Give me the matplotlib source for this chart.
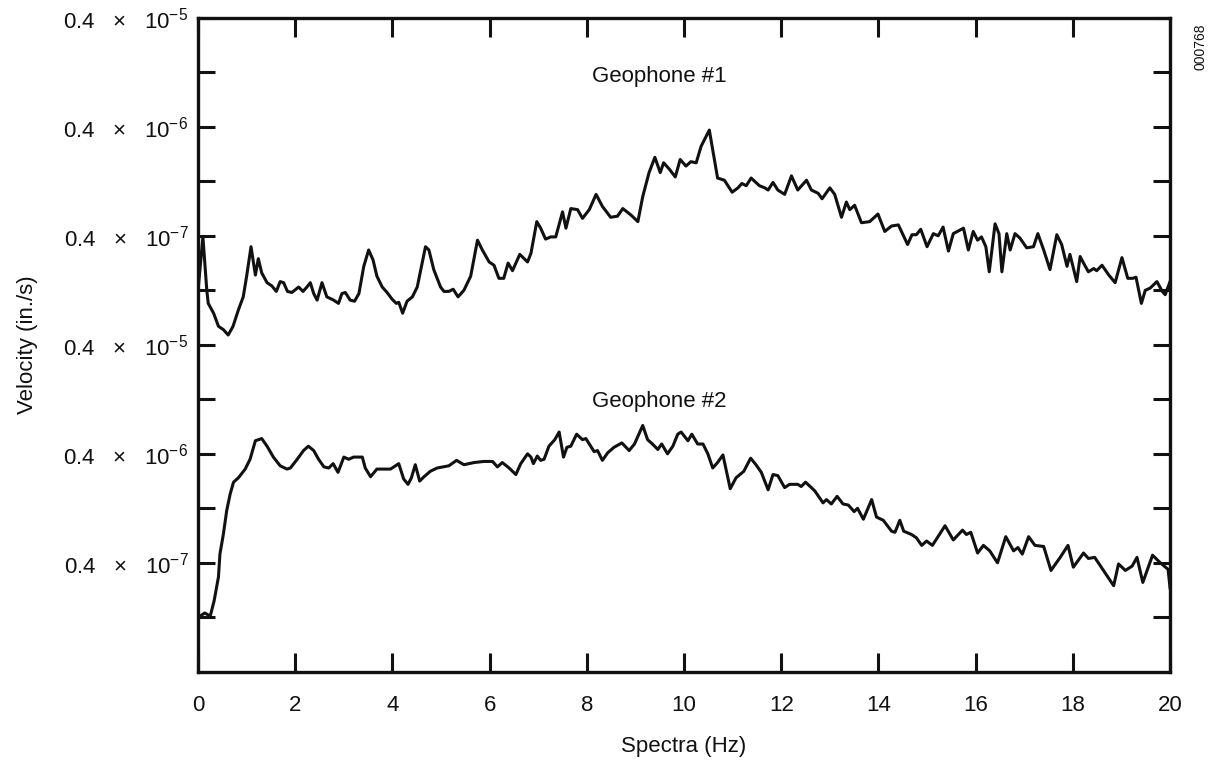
import matplotlib.pyplot as plt

plt.rcParams['font.family'] = ['Liberation Sans', 'DejaVu Sans']
plt.rcParams['mathtext.fontset'] = 'custom'
plt.rcParams['mathtext.rm'] = 'Liberation Sans'
plt.rcParams['mathtext.it'] = 'Liberation Sans:italic'

# Geophone #1: frequency (Hz) and velocity exponent n, velocity = 0.4 x 10^n in./s
freq1 = [0.00, 0.10, 0.18, 0.21, 0.32, 0.42, 0.52, 0.62, 0.72, 0.83, 0.93, 1.00,
         1.09, 1.18, 1.24, 1.31, 1.42, 1.52, 1.61, 1.69, 1.76, 1.84, 1.93, 2.07,
         2.16, 2.24, 2.31, 2.38, 2.45, 2.55, 2.65, 2.79, 2.89, 2.96, 3.03, 3.13,
         3.22, 3.31, 3.41, 3.51, 3.60, 3.68, 3.79, 3.89, 3.99, 4.08, 4.13, 4.21,
         4.30, 4.41, 4.51, 4.61, 4.68, 4.75, 4.85, 4.99, 5.06, 5.16, 5.25, 5.35,
         5.47, 5.61, 5.75, 5.85, 5.99, 6.09, 6.19, 6.29, 6.38, 6.47, 6.62, 6.78,
         6.85, 6.97, 7.05, 7.15, 7.26, 7.36, 7.50, 7.57, 7.67, 7.81, 7.91, 8.05,
         8.19, 8.32, 8.49, 8.63, 8.74, 8.91, 9.05, 9.15, 9.28, 9.40, 9.51, 9.58,
         9.70, 9.82, 9.92, 10.04, 10.14, 10.25, 10.35, 10.52, 10.69, 10.83, 10.99,
         11.11, 11.19, 11.28, 11.38, 11.55, 11.66, 11.73, 11.83, 11.93, 12.07,
         12.21, 12.34, 12.52, 12.62, 12.76, 12.84, 13.00, 13.10, 13.24, 13.34,
         13.41, 13.51, 13.65, 13.82, 13.99, 14.13, 14.27, 14.41, 14.60, 14.69,
         14.78, 14.87, 15.00, 15.13, 15.23, 15.33, 15.44, 15.54, 15.75, 15.85,
         15.95, 16.04, 16.12, 16.21, 16.28, 16.40, 16.48, 16.54, 16.64, 16.71,
         16.81, 16.91, 17.05, 17.19, 17.28, 17.40, 17.53, 17.67, 17.77, 17.88,
         17.94, 18.08, 18.15, 18.22, 18.32, 18.43, 18.49, 18.60, 18.74, 18.87,
         19.01, 19.13, 19.23, 19.30, 19.41, 19.49, 19.59, 19.73, 19.84, 19.90,
         20.00]
geo1_exp = [-7.50, -7.01, -7.50, -7.62, -7.71, -7.83, -7.86, -7.91, -7.83, -7.68,
            -7.56, -7.37, -7.10, -7.36, -7.21, -7.34, -7.43, -7.46, -7.51, -7.42,
            -7.43, -7.51, -7.52, -7.47, -7.51, -7.47, -7.43, -7.53, -7.59, -7.43,
            -7.56, -7.59, -7.62, -7.53, -7.52, -7.59, -7.60, -7.53, -7.28, -7.13,
            -7.22, -7.37, -7.47, -7.52, -7.58, -7.62, -7.61, -7.71, -7.60, -7.56,
            -7.47, -7.25, -7.10, -7.13, -7.31, -7.47, -7.51, -7.51, -7.49, -7.56,
            -7.50, -7.37, -7.04, -7.13, -7.24, -7.27, -7.39, -7.39, -7.25, -7.32,
            -7.17, -7.24, -7.16, -6.87, -6.93, -7.03, -7.01, -7.01, -6.78, -6.93,
            -6.75, -6.76, -6.84, -6.76, -6.62, -6.73, -6.83, -6.82, -6.75, -6.81,
            -6.87, -6.64, -6.42, -6.28, -6.42, -6.33, -6.39, -6.46, -6.30, -6.36,
            -6.32, -6.33, -6.18, -6.03, -6.47, -6.49, -6.60, -6.56, -6.52, -6.54,
            -6.47, -6.54, -6.56, -6.58, -6.51, -6.58, -6.62, -6.45, -6.58, -6.49,
            -6.58, -6.61, -6.66, -6.56, -6.62, -6.83, -6.69, -6.76, -6.72, -6.88,
            -6.87, -6.80, -6.96, -6.91, -6.90, -7.08, -6.99, -6.99, -6.94, -7.10,
            -6.98, -7.00, -6.92, -7.14, -6.98, -6.93, -7.13, -6.96, -7.04, -7.01,
            -7.10, -7.33, -6.89, -6.98, -7.33, -6.98, -7.13, -6.98, -7.02, -7.11,
            -7.10, -6.98, -7.13, -7.31, -6.99, -7.08, -7.28, -7.17, -7.42, -7.19,
            -7.25, -7.33, -7.30, -7.32, -7.27, -7.36, -7.43, -7.20, -7.39, -7.39,
            -7.38, -7.62, -7.50, -7.48, -7.42, -7.51, -7.54, -7.42]

# Geophone #2
freq2 = [0.00, 0.14, 0.25, 0.33, 0.42, 0.45, 0.52, 0.59, 0.66, 0.73, 0.83, 0.97,
         1.07, 1.18, 1.31, 1.42, 1.55, 1.69, 1.83, 1.90, 2.04, 2.17, 2.27, 2.38,
         2.48, 2.59, 2.69, 2.78, 2.88, 3.00, 3.10, 3.20, 3.31, 3.38, 3.44, 3.55,
         3.68, 3.82, 3.96, 4.13, 4.23, 4.32, 4.39, 4.47, 4.56, 4.65, 4.78, 4.92,
         5.16, 5.32, 5.47, 5.68, 5.88, 6.06, 6.16, 6.26, 6.40, 6.54, 6.64, 6.78,
         6.85, 6.90, 6.98, 7.05, 7.12, 7.22, 7.34, 7.43, 7.52, 7.59, 7.67, 7.79,
         7.91, 7.98, 8.05, 8.15, 8.22, 8.32, 8.43, 8.56, 8.72, 8.87, 8.98, 9.15,
         9.25, 9.35, 9.46, 9.54, 9.66, 9.77, 9.87, 9.94, 10.08, 10.16, 10.28,
         10.39, 10.49, 10.59, 10.69, 10.80, 10.95, 11.07, 11.23, 11.37, 11.48,
         11.59, 11.73, 11.83, 11.93, 12.07, 12.17, 12.34, 12.41, 12.50, 12.69,
         12.86, 12.93, 13.03, 13.15, 13.27, 13.38, 13.50, 13.57, 13.69, 13.86,
         13.96, 14.10, 14.27, 14.34, 14.44, 14.52, 14.68, 14.78, 14.89, 14.99,
         15.11, 15.37, 15.54, 15.73, 15.81, 15.90, 16.04, 16.16, 16.29, 16.45,
         16.62, 16.78, 16.87, 16.96, 17.09, 17.22, 17.40, 17.55, 17.74, 17.90,
         18.01, 18.22, 18.32, 18.45, 18.63, 18.84, 18.94, 19.08, 19.22, 19.32,
         19.44, 19.64, 19.80, 19.96, 20.00]
geo2_exp = [-7.50, -7.46, -7.49, -7.35, -7.13, -6.92, -6.74, -6.52, -6.37, -6.26,
            -6.22, -6.14, -6.05, -5.88, -5.86, -5.93, -6.03, -6.11, -6.14, -6.13,
            -6.05, -5.97, -5.93, -5.97, -6.05, -6.12, -6.13, -6.09, -6.17, -6.03,
            -6.05, -6.03, -6.03, -6.03, -6.13, -6.21, -6.14, -6.14, -6.14, -6.09,
            -6.23, -6.28, -6.22, -6.10, -6.25, -6.21, -6.16, -6.13, -6.11, -6.06,
            -6.10, -6.08, -6.07, -6.07, -6.12, -6.08, -6.13, -6.19, -6.09, -6.00,
            -6.03, -6.09, -6.02, -6.06, -6.05, -5.93, -5.87, -5.80, -6.03, -5.94,
            -5.93, -5.82, -5.87, -5.86, -5.91, -5.98, -5.97, -6.06, -5.99, -5.94,
            -5.90, -5.97, -5.91, -5.74, -5.87, -5.91, -5.96, -5.91, -6.00, -5.93,
            -5.82, -5.80, -5.88, -5.82, -5.91, -5.91, -6.00, -6.13, -6.08, -6.01,
            -6.32, -6.22, -6.16, -6.04, -6.10, -6.17, -6.33, -6.19, -6.20, -6.31,
            -6.28, -6.28, -6.30, -6.26, -6.34, -6.45, -6.42, -6.46, -6.39, -6.46,
            -6.47, -6.53, -6.50, -6.60, -6.42, -6.58, -6.61, -6.71, -6.72, -6.61,
            -6.71, -6.74, -6.77, -6.84, -6.80, -6.84, -6.66, -6.79, -6.70, -6.74,
            -6.72, -6.91, -6.84, -6.89, -7.00, -6.76, -6.89, -6.86, -6.92, -6.76,
            -6.84, -6.85, -7.07, -6.95, -6.84, -7.04, -6.91, -6.96, -6.95, -7.07,
            -7.21, -7.01, -7.07, -7.03, -6.95, -7.18, -6.93, -7.00, -7.06, -7.23]

# stacked layout: each panel spans three decades of the shared axis
top_offset = 11      # geophone #1: 0.4e-7 .. 0.4e-5 -> 4 .. 6
bottom_offset = 8    # geophone #2: 0.4e-7 .. 0.4e-5 -> 1 .. 3
ytick_exp = [-7, -6, -5, -7, -6, -5]
ytick_pos = [1, 2, 3, 4, 5, 6]
xticks = list(range(0, 21, 2))

fig = plt.figure(figsize=(12.15, 7.74), dpi=100)
ax = fig.add_axes([0.163, 0.132, 0.8, 0.845])

ax.plot(freq1, [e + top_offset for e in geo1_exp], color='#111111', lw=2.2,
        solid_joinstyle='round')
ax.plot(freq2, [e + bottom_offset for e in geo2_exp], color='#111111', lw=2.2,
        solid_joinstyle='round')

ax.set_xlim(0, 20)
ax.set_ylim(0, 6)
ax.set_xticks(xticks)
ax.set_xticklabels([str(t) for t in xticks], fontsize=16)
ax.set_yticks(ytick_pos)
ax.set_yticklabels([f'0.4   ×   10$^{{{e}}}$' for e in ytick_exp], fontsize=16)
ax.set_yticks([0.5, 1.5, 2.5, 3.5, 4.5, 5.5], minor=True)

ax.tick_params(axis='x', which='both', direction='in', length=14, width=2.2,
               top=True, pad=17, colors='#111111')
ax.tick_params(axis='y', which='both', direction='in', length=12, width=2.2,
               right=True, pad=7, colors='#111111')
for s in ax.spines.values():
    s.set_linewidth(2.4)
    s.set_color('#111111')

ax.set_xlabel('Spectra (Hz)', fontsize=16, labelpad=14, color='#111111')
ax.set_ylabel('Velocity (in./s)', fontsize=16, labelpad=18, color='#111111')

ax.text(9.5, 5.46, 'Geophone #1', fontsize=16, ha='center', va='center',
        color='#111111')
ax.text(9.5, 2.48, 'Geophone #2', fontsize=16, ha='center', va='center',
        color='#111111')
fig.text(0.988, 0.94, '000768', rotation=90, fontsize=10, ha='center',
         va='center', color='#111111')

fig.savefig('out.png', dpi=100)
